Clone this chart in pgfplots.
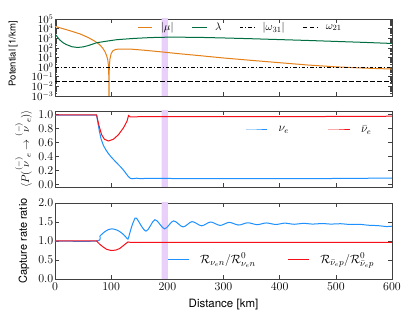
\documentclass[border=0pt]{standalone}
\usepackage{amsmath}
\usepackage[no-math]{fontspec}
\setmainfont{TeX Gyre Heros}
\usepackage{pgfplots}
\pgfplotsset{compat=1.18}

\definecolor{cmu}{RGB}{228,128,22}
\definecolor{clam}{RGB}{0,110,65}
\definecolor{cnu}{RGB}{30,144,255}
\definecolor{cbar}{RGB}{245,15,25}
\definecolor{cband}{RGB}{232,208,250}

\pgfplotsset{
  panel/.style={
    scale only axis, width=337pt, anchor=south west,
    xmin=0, xmax=600, xtick={0,100,...,600},
    tick align=inside, major tick length=4pt, minor tick length=2pt,
    axis line style={draw=black!75, line width=0.8pt},
    every tick/.style={black!75, line width=0.5pt},
    tick label style={font=\fontsize{11.5}{11.5}\selectfont},
    yticklabel style={inner xsep=1.5pt},
    legend style={draw=none, fill=none},
    legend cell align=left,
  },
  bandfill/.style={fill=cband, draw=none, forget plot},
}

\begin{document}
\begin{tikzpicture}
\path[use as bounding box] (0,0) rectangle (415pt,324pt);

% --- potentials
\begin{axis}[panel, at={(55pt,228pt)}, height=77pt,
  ymode=log, ymin=1e-3, ymax=1e5,
  ytick={1e-3,1e-2,1e-1,1,10,100,1e3,1e4,1e5},
  yticklabel style={font=\fontsize{10.5}{10.5}\selectfont},
  xticklabels=\empty,
  ylabel={\fontsize{9.5}{9.5}\selectfont Potential [1/km]},
  ylabel style={at={(axis description cs:-0.124,0.55)}, anchor=center},
  legend columns=4,
  legend style={at={(0.235,0.89)}, anchor=west, font=\fontsize{11}{11}\selectfont,
    /tikz/every odd column/.append style={column sep=6pt},
    /tikz/every even column/.append style={column sep=16pt}},
  legend image post style={xscale=0.85},
]
\addplot[bandfill] coordinates {(190,1e-4) (201,1e-4) (201,1e6) (190,1e6)} \closedcycle;
\addplot[cmu, line width=1pt] coordinates {
  (0,1.70e4) (15,9.55e3) (30,5.25e3) (45,2.75e3) (60,1.12e3) (70,525) (75,339)
  (80,200) (85,93.3) (89,39.8) (92,15.1) (94,5.62) (95.3,1.26) (95.8,0.1)
  (96,1e-5) (96.3,0.1) (96.8,1.58) (98,7.94) (100,25.1) (103,50.1) (108,69.2)
  (115,75.9) (135,74.1) (160,56.2) (190,38.0) (220,25.1) (260,15.1) (300,8.91)
  (350,5.01) (400,2.88) (450,1.66) (500,1.07) (550,0.794) (600,0.631)};
\addlegendentry{$|\mu|$}
\addplot[clam, line width=1pt] coordinates {
  (0,2818) (4,1413) (8,708) (14,355) (20,224) (30,132) (40,110) (50,126)
  (60,178) (74,339) (90,479) (110,708) (140,955) (170,1175) (200,1288)
  (250,1259) (300,1072) (350,891) (400,724) (450,589) (500,468) (550,372) (600,288)};
\addlegendentry{$\lambda$}
\addplot[black, line width=0.7pt, dash pattern=on 3.5pt off 2pt on 1pt off 2pt] coordinates {(0,1) (600,1)};
\addlegendentry{$|\omega_{31}|$}
\addplot[black, line width=0.7pt, dash pattern=on 4.5pt off 2.5pt] coordinates {(0,0.035) (600,0.035)};
\addlegendentry{$\omega_{21}$}
\end{axis}

% --- survival probabilities
\begin{axis}[panel, at={(55pt,137pt)}, height=76pt,
  ymin=-0.04, ymax=1.05, ytick={0,0.2,...,1.0},
  yticklabel style={/pgf/number format/.cd, fixed, fixed zerofill, precision=1},
  xticklabels=\empty,
  ylabel={$\langle P(\overset{(-)}{\nu}_{e} \rightarrow \overset{(-)}{\nu}_{e})\rangle$},
  ylabel style={at={(axis description cs:-0.095,0.5)}, anchor=center, font=\fontsize{11}{11}\selectfont},
  legend columns=2,
  legend style={at={(0.555,0.75)}, anchor=west, font=\fontsize{12}{12}\selectfont,
    /tikz/every odd column/.append style={column sep=9pt},
    /tikz/every even column/.append style={column sep=37pt}},
  legend image post style={xscale=1.25},
]
\addplot[bandfill] coordinates {(190,-1) (201,-1) (201,2) (190,2)} \closedcycle;
\addplot[cnu, line width=1pt] coordinates {
  (0,0.99) (74,0.99) (76,0.9) (79,0.76) (82,0.65) (86,0.56) (90,0.5) (95,0.44)
  (100,0.39) (107,0.33) (113,0.28) (119,0.23) (125,0.17) (130,0.115) (134,0.085)
  (138,0.078) (145,0.086) (152,0.08) (165,0.084) (200,0.082) (300,0.08)
  (400,0.08) (500,0.082) (600,0.088)};
\addlegendentry{$\nu_e$}
\addplot[cbar, line width=1pt] coordinates {
  (0,0.995) (74,0.995) (78,0.85) (83,0.71) (88,0.645) (95,0.62) (104,0.645)
  (113,0.71) (122,0.81) (128,0.9) (131,0.985) (134,0.965) (150,0.968)
  (300,0.968) (450,0.97) (600,0.975)};
\addlegendentry{$\bar{\nu}_e$}
\end{axis}

% --- capture rate ratios
\begin{axis}[panel, at={(55pt,45pt)}, height=76pt,
  ymin=0, ymax=2, ytick={0,0.5,...,2.0},
  yticklabel style={/pgf/number format/.cd, fixed, fixed zerofill, precision=1},
  xlabel={\fontsize{11.5}{11.5}\selectfont Distance [km]},
  xlabel style={at={(axis description cs:0.5,-0.33)}, anchor=center},
  ylabel={\fontsize{11}{11}\selectfont Capture rate ratio},
  ylabel style={at={(axis description cs:-0.092,0.5)}, anchor=center},
  legend columns=2,
  legend style={at={(0.325,0.263)}, anchor=west, font=\fontsize{12.5}{12.5}\selectfont,
    /tikz/every odd column/.append style={column sep=9pt},
    /tikz/every even column/.append style={column sep=30pt}},
  legend image post style={xscale=1.2},
]
\addplot[bandfill] coordinates {(190,-1) (201,-1) (201,3) (190,3)} \closedcycle;
\addplot[cnu, line width=1pt, smooth] coordinates {
  (0,1.0) (74,1.0) (80,1.13) (89,1.25) (95,1.3) (101,1.32) (108,1.3) (115,1.25)
  (122,1.17) (127,1.09) (130,1.05) (133,1.2) (137,1.4) (141,1.55) (145,1.6)
  (162,1.26) (178,1.56) (195,1.32) (211,1.53) (228,1.37) (244,1.51) (261,1.40)
  (277,1.5) (294,1.41) (310,1.49) (327,1.42) (343,1.48) (360,1.43) (376,1.475)
  (393,1.435) (409,1.47) (426,1.44) (442,1.465) (459,1.445) (475,1.46)
  (492,1.445) (508,1.455) (525,1.435) (541,1.44) (558,1.415) (574,1.405)
  (591,1.38) (600,1.39)};
\addlegendentry{$\mathcal{R}_{\nu_e n}/\mathcal{R}^0_{\nu_e n}$}
\addplot[cbar, line width=1pt] coordinates {
  (0,1.0) (74,1.0) (80,0.91) (86,0.84) (92,0.78) (100,0.75) (108,0.76)
  (115,0.8) (121,0.87) (126,0.93) (130,0.975) (134,0.965) (200,0.965)
  (400,0.965) (600,0.967)};
\addlegendentry{$\mathcal{R}_{\bar{\nu}_e p}/\mathcal{R}^0_{\bar{\nu}_e p}$}
\end{axis}
\end{tikzpicture}
\end{document}
